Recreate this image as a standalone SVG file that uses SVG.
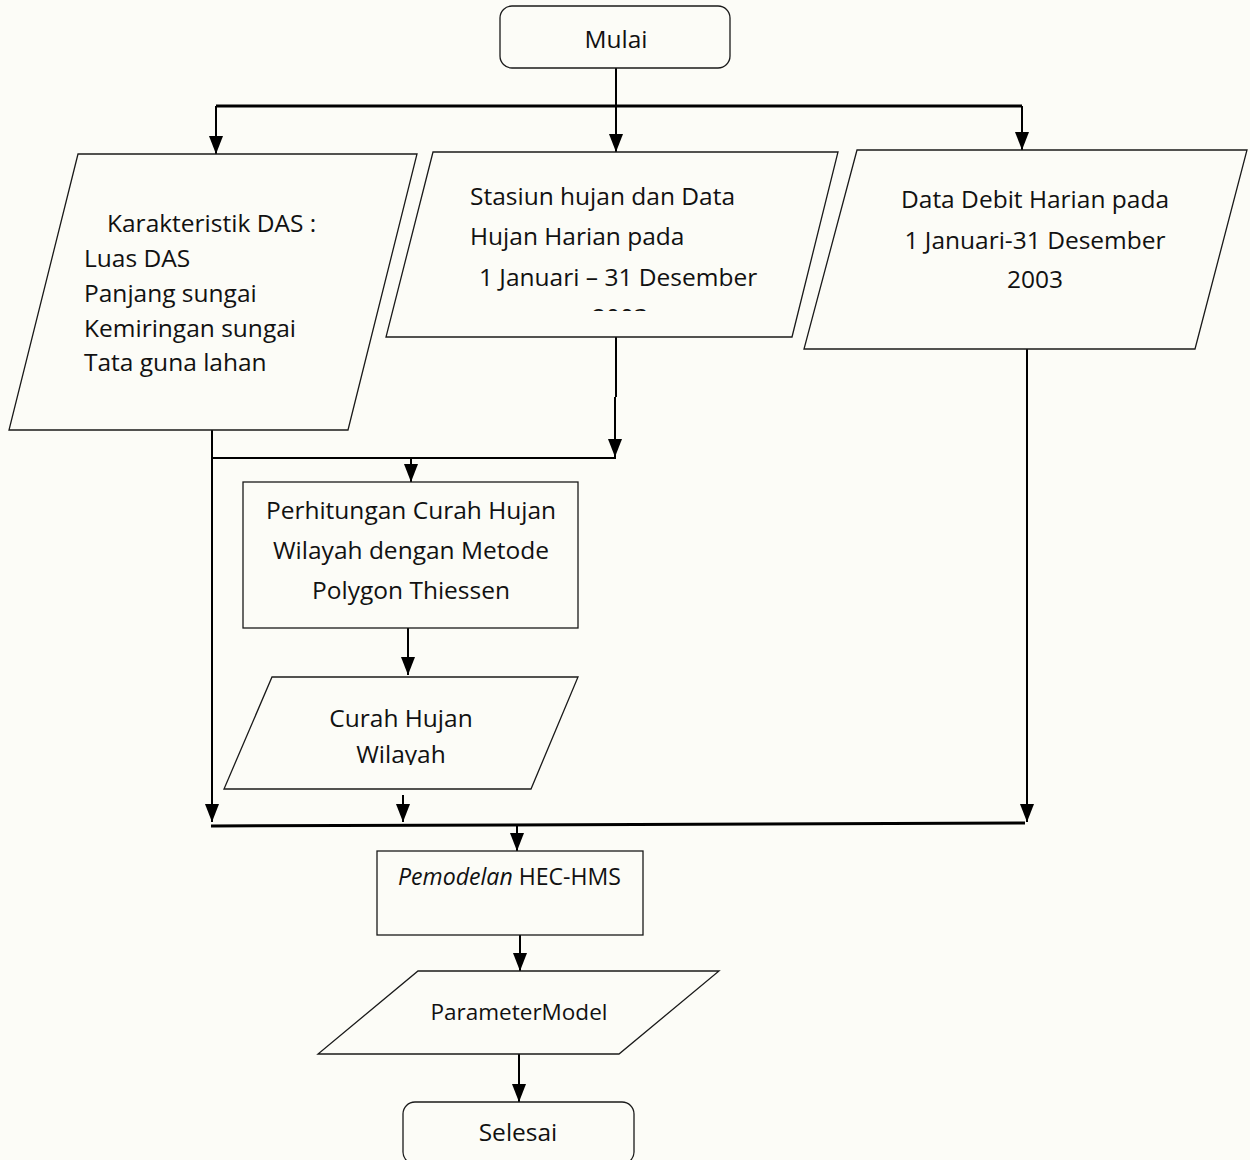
<svg xmlns="http://www.w3.org/2000/svg" width="1250" height="1160" viewBox="0 0 1250 1160">
<style>
.shape{fill:none;stroke:#1a1a1a;stroke-width:1.3}
.conn{fill:none;stroke:#000;stroke-width:2}
.bus{fill:none;stroke:#000;stroke-width:3}
text{font-family:"Open Sans","Noto Sans","Liberation Sans",sans-serif;font-size:24.5px;fill:#111}
.c{text-anchor:middle}
</style>
<defs>
<marker id="arr" markerUnits="userSpaceOnUse" markerWidth="18" markerHeight="14" viewBox="0 0 18 14" refX="18" refY="7" orient="auto">
<path d="M0,0 L18,7 L0,14 Z" fill="#000"/>
</marker>
<clipPath id="clipMid"><rect x="380" y="150" width="460" height="161"/></clipPath>
<clipPath id="clipCH"><rect x="220" y="677" width="360" height="88"/></clipPath>
</defs>
<rect width="1250" height="1160" fill="#fcfcf7"/>

<g id="connectors">
<path class="conn" d="M616,68 V152" marker-end="url(#arr)"/>
<path class="bus" d="M216,106 H1022"/>
<path class="conn" d="M216,106 V154" marker-end="url(#arr)"/>
<path class="conn" d="M1022,106 V150" marker-end="url(#arr)"/>
<path class="conn" d="M616,337 V397 M615,397 V457" marker-end="url(#arr)"/>
<path class="conn" d="M212,458 H616"/>
<path class="conn" d="M212,430 V822" marker-end="url(#arr)"/>
<path class="conn" d="M411,458 V482" marker-end="url(#arr)"/>
<path class="conn" d="M408,628 V675" marker-end="url(#arr)"/>
<path class="conn" d="M403,795 V822" marker-end="url(#arr)"/>
<path class="conn" d="M1027,349 V822" marker-end="url(#arr)"/>
<path class="bus" d="M211,826 L1025,823"/>
<path class="conn" d="M517,825 V851" marker-end="url(#arr)"/>
<path class="conn" d="M520,935 V971" marker-end="url(#arr)"/>
<path class="conn" d="M519,1054 V1102" marker-end="url(#arr)"/>
</g>

<g id="mulai">
<rect class="shape" x="500" y="6" width="230" height="62" rx="12"/>
<text class="c" x="616" y="48">Mulai</text>
</g>

<g id="karakteristik">
<polygon class="shape" points="78,154 417,154 348,430 9,430"/>
<text x="107" y="232">Karakteristik DAS :</text>
<text x="84" y="267">Luas DAS</text>
<text x="84" y="302">Panjang sungai</text>
<text x="84" y="337">Kemiringan sungai</text>
<text x="84" y="371">Tata guna lahan</text>
</g>

<g id="stasiun">
<polygon class="shape" points="433,152 838,152 792,337 386,337"/>
<g clip-path="url(#clipMid)">
<text x="470" y="205">Stasiun hujan dan Data</text>
<text x="470" y="245">Hujan Harian pada</text>
<text x="479" y="286">1 Januari – 31 Desember</text>
<text class="c" x="620" y="326">2003</text>
</g>
</g>

<g id="debit">
<polygon class="shape" points="857,150 1247,150 1195,349 804,349"/>
<text class="c" x="1035" y="208">Data Debit Harian pada</text>
<text class="c" x="1035" y="249">1 Januari-31 Desember</text>
<text class="c" x="1035" y="288">2003</text>
</g>

<g id="perhitungan">
<rect class="shape" x="243" y="482" width="335" height="146"/>
<text class="c" x="411" y="519">Perhitungan Curah Hujan</text>
<text class="c" x="411" y="559">Wilayah dengan Metode</text>
<text class="c" x="411" y="599">Polygon Thiessen</text>
</g>

<g id="curah">
<polygon class="shape" points="272,677 578,677 531,789 224,789"/>
<g clip-path="url(#clipCH)">
<text class="c" x="401" y="727">Curah Hujan</text>
<text class="c" x="401" y="763">Wilayah</text>
</g>
</g>

<g id="hec">
<rect class="shape" x="377" y="851" width="266" height="84"/>
<text x="398" y="885" textLength="223" lengthAdjust="spacingAndGlyphs"><tspan font-style="italic">Pemodelan</tspan> HEC-HMS</text>
</g>

<g id="parameter">
<polygon class="shape" points="418,971 719,971 619,1054 318,1054"/>
<text class="c" x="519" y="1020" style="font-size:22.5px">ParameterModel</text>
</g>

<g id="selesai">
<rect class="shape" x="403" y="1102" width="231" height="62" rx="12"/>
<text class="c" x="518" y="1141">Selesai</text>
</g>
</svg>
